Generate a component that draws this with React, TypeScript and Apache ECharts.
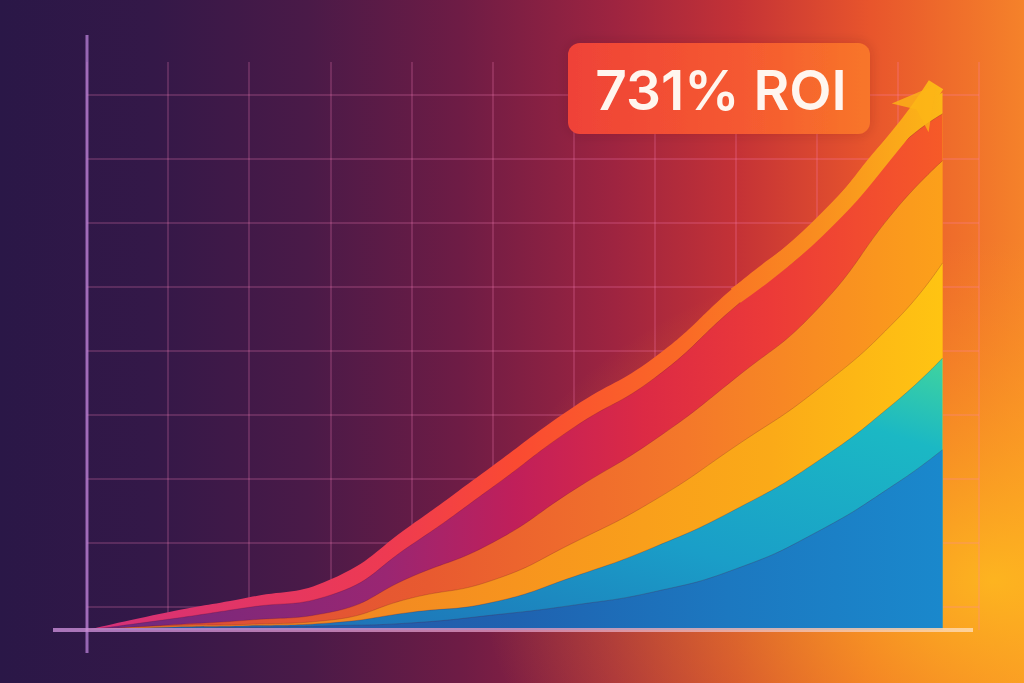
import React, { useEffect, useRef } from "react";
import * as echarts from "echarts";

// x positions (grid steps) and stacked layer thicknesses (ROI %)
const xValues = [0, 1, 2, 3, 4, 5, 6, 7, 8, 9, 10, 10.55];
const blueValues = [0, 2, 4, 6, 10, 21, 35, 54, 86, 138, 208, 254];
const tealValues = [0, 2, 2, 4, 15, 18, 40, 63, 84, 99, 116, 129];
const goldValues = [0, 2, 2, 4, 20, 31, 48, 66, 89, 101, 115, 134];
const orangeValues = [0, 1, 6, 11, 30, 53, 74, 85, 96, 113, 157, 144];
const crimsonValues = [0, 8, 18, 24, 45, 78, 88, 87, 101, 98, 83, 66];
// growth ribbon riding on top of the stack
const ribbonValues = [0, 10, 14, 22, 28, 30, 29, 29, 29, 30, 30, 30];
// arrow shaft centre line (last stretch) and arrow tip
const trendX = [8, 9, 10, 10.47];
const trendValues = [471, 564, 694, 768];
const roiLabel = "731% ROI";

type Stop = [number, string];

function lg(stops: Stop[], x = 0, y = 0, x2 = 1, y2 = 0, global = false) {
  return new echarts.graphic.LinearGradient(
    x, y, x2, y2,
    stops.map(([offset, color]) => ({ offset, color })),
    global
  );
}

function pairs(xs: number[], ys: number[]) {
  return ys.map((v, i) => [xs[i], v]);
}

// cumulative stacking (done here so the value x-axis keeps exact positions)
const layers = [blueValues, tealValues, goldValues, orangeValues, crimsonValues, ribbonValues];
const cumulative: number[][] = [];
layers.forEach((layer, li) => {
  cumulative.push(layer.map((v, i) => v + (li > 0 ? cumulative[li - 1][i] : 0)));
});

function areaSeries(name: string, vals: number[], fill: any, z: number, edge: boolean) {
  return {
    type: "line",
    name,
    xAxisIndex: 0,
    yAxisIndex: 0,
    data: pairs(xValues, vals),
    smooth: 0.5,
    symbol: "none",
    lineStyle: edge ? { width: 1, color: "rgba(90,15,40,0.22)" } : { width: 0 },
    areaStyle: { color: fill, opacity: 1 },
    z,
  };
}

export default function App() {
  const ref = useRef<HTMLDivElement>(null);

  useEffect(() => {
    if (!ref.current) return;
    const chart = echarts.init(ref.current, undefined, { renderer: "svg" });
    const gridLine = { show: true, lineStyle: { color: "rgba(255,130,190,0.2)", width: 2 } };

    const ribbonStops: Stop[] = [[0, "#d4307a"], [0.35, "#ee3a52"], [0.5, "#fa4a32"], [0.7, "#fa6a26"], [0.85, "#f98c20"], [1, "#fcb816"]];
    const fills = [
      lg([[0, "#2d4ea0"], [0.5, "#1f62b0"], [0.75, "#1c78c0"], [1, "#1a88cc"]]),
      lg([[0, "#2060b0"], [0.5, "#1a9ec8"], [0.83, "#1bb8c4"], [1, "#40d49e"]], 0, 1, 1, 0),
      lg([[0, "#e8742a"], [0.5, "#f7941e"], [0.8, "#fbaa18"], [1, "#ffc412"]]),
      lg([[0, "#d84a3a"], [0.4, "#e85a30"], [0.7, "#f4782a"], [1, "#fca01a"]]),
      lg([[0, "#6a2a80"], [0.35, "#9a2672"], [0.5, "#c01f5a"], [0.65, "#dc2a45"], [0.8, "#ec3a38"], [1, "#f65a28"]]),
      lg(ribbonStops, 87, 0, 943, 0, true),
    ];
    const names = ["Blue", "Teal", "Gold", "Orange", "Crimson", "Growth"];
    // lower layers are drawn over the taller ones behind them
    const areas = cumulative.map((vals, i) => areaSeries(names[i], vals, fills[i], 3 - i * 0.1, i < 5));

    const n = trendX.length;

    const option: any = {
      animation: false,
      grid: [
        { left: 87, right: 45, top: 62, bottom: 53 },
        { left: 87, right: 45, top: 95, bottom: 76 },
      ],
      xAxis: [
        {
          gridIndex: 0, type: "value", min: 0, max: 11, interval: 1,
          axisLine: { show: false }, axisTick: { show: false }, axisLabel: { show: false },
          splitLine: gridLine,
        },
        { gridIndex: 1, type: "value", min: 0, max: 1, show: false },
      ],
      yAxis: [
        {
          gridIndex: 0, type: "value", min: 0, max: 800,
          axisLine: { show: false }, axisTick: { show: false }, axisLabel: { show: false },
          splitLine: { show: false },
        },
        {
          gridIndex: 1, type: "value", min: 0, max: 8, interval: 1,
          axisLine: { show: false }, axisTick: { show: false }, axisLabel: { show: false },
          splitLine: gridLine,
        },
      ],
      series: [
        ...areas,
        {
          type: "line",
          name: "Trend",
          xAxisIndex: 0,
          yAxisIndex: 0,
          data: pairs(trendX, trendValues),
          smooth: 0.5,
          symbol: "none",
          lineStyle: {
            width: 17,
            cap: "butt",
            color: lg(ribbonStops, 87, 0, 943, 0, true),
          },
          z: 5,
        },
        {
          type: "scatter",
          name: "Arrow",
          xAxisIndex: 0,
          yAxisIndex: 0,
          data: [[trendX[n - 1], trendValues[n - 1]]],
          symbol: "arrow",
          symbolSize: [35, 42],
          symbolRotate: -38,
          itemStyle: { color: "#fcb517" },
          z: 6,
        },
      ],
      graphic: [
        {
          type: "rect", z: -100, silent: true,
          shape: { x: 0, y: 0, width: 1024, height: 683 },
          style: {
            fill: lg([[0, "#2a1747"], [0.15, "#341848"], [0.3, "#4a1a48"], [0.45, "#6e1c45"], [0.6, "#9e2440"], [0.72, "#c43236"], [0.85, "#e8552c"], [1, "#f5822a"]]),
          },
        },
        {
          type: "rect", z: -99, silent: true,
          shape: { x: 0, y: 0, width: 1024, height: 683 },
          style: {
            fill: new echarts.graphic.RadialGradient(0.97, 0.85, 0.5, [
              { offset: 0, color: "rgba(255,190,30,0.85)" },
              { offset: 1, color: "rgba(255,160,30,0)" },
            ]),
          },
        },
        {
          type: "line", z: 50, silent: true,
          shape: { x1: 87, y1: 35, x2: 87, y2: 653 },
          style: { stroke: "rgba(185,130,215,0.75)", lineWidth: 3 },
        },
        {
          type: "line", z: 50, silent: true,
          shape: { x1: 53, y1: 630, x2: 973, y2: 630 },
          style: {
            stroke: lg([[0, "rgba(200,140,215,0.8)"], [0.5, "rgba(220,150,190,0.8)"], [1, "rgba(255,215,165,0.9)"]], 53, 0, 973, 0, true),
            lineWidth: 4,
          },
        },
        {
          type: "rect", z: 60, silent: true,
          shape: { x: 568, y: 43, width: 302, height: 91, r: 12 },
          style: {
            fill: lg([[0, "#ef4238"], [0.6, "#f55a30"], [1, "#f8762a"]], 568, 0, 870, 0, true),
            shadowBlur: 12,
            shadowColor: "rgba(60,0,20,0.18)",
          },
        },
        {
          type: "text", z: 61, silent: true,
          x: 721, y: 90,
          style: {
            text: roiLabel,
            fill: "#fff6ef",
            fontSize: 55,
            fontWeight: 600,
            fontFamily: "Inter",
            align: "center",
            verticalAlign: "middle",
          },
        },
      ],
    };

    chart.setOption(option);
    return () => chart.dispose();
  }, []);

  return (
    <div
      ref={ref}
      style={{ position: "fixed", left: 0, top: 0, width: 1024, height: 683 }}
    />
  );
}
